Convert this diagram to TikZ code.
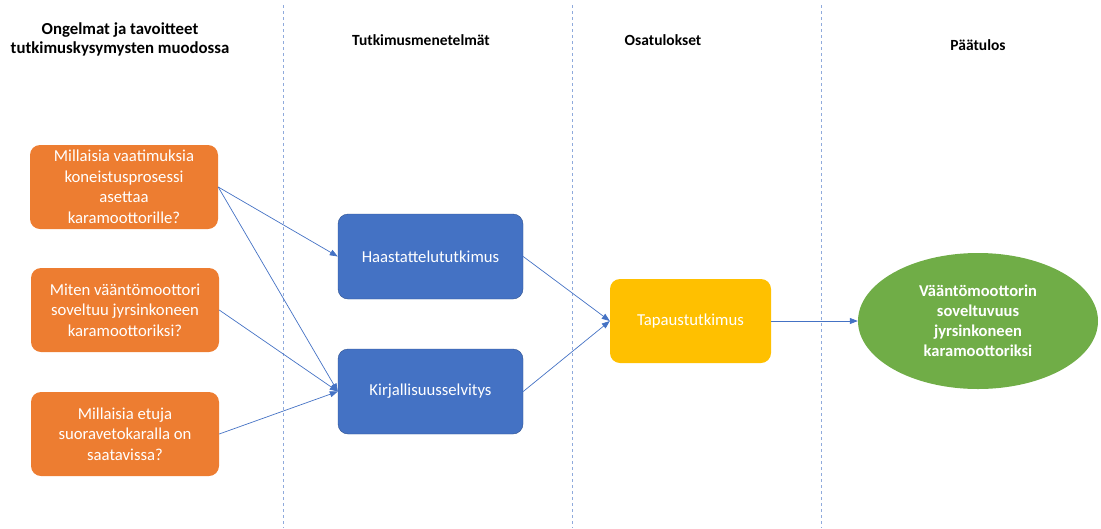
\documentclass[tikz,border=0pt]{standalone}
\usepackage{fontspec}
\setmainfont{Carlito}
\usetikzlibrary{arrows.meta,positioning,shapes.geometric}
\definecolor{qorange}{HTML}{ED7D31}
\definecolor{mblue}{HTML}{4472C4}
\definecolor{mblueedge}{HTML}{2F528F}
\definecolor{ryellow}{HTML}{FFC000}
\definecolor{fgreen}{HTML}{70AD47}
\definecolor{lineblue}{HTML}{8FAADC}
\tikzset{
  boxtext/.style={align=center,text=white,font=\fontsize{16.7}{20.5}\selectfont},
  qbox/.style={boxtext,fill=qorange,rounded corners=10pt,minimum width=188pt,minimum height=84pt,inner sep=0pt},
  mbox/.style={boxtext,fill=mblue,draw=mblueedge,rounded corners=10pt,minimum width=185pt,minimum height=85pt,inner sep=0pt},
  rbox/.style={boxtext,fill=ryellow,rounded corners=10pt,minimum width=161pt,minimum height=84pt,inner sep=0pt},
  endnode/.style={ellipse,boxtext,font=\bfseries\fontsize{16.5}{20}\selectfont,fill=fgreen,minimum width=240pt,minimum height=136pt,inner sep=0pt},
  header/.style={align=center,font=\bfseries\fontsize{15.5}{19}\selectfont},
  link/.style={-{Triangle[length=8pt,width=6pt]},mblue,line width=0.7pt}
}
\begin{document}
\begin{tikzpicture}[x=1pt,y=-1pt]
  \useasboundingbox (0,0) rectangle (1101,528);
  \foreach \x in {283,572,821}{
    \draw[lineblue,dashed,line width=0.8pt] (\x,5) -- (\x,528);
  }
  \node[header,font=\bfseries\fontsize{16.8}{19}\selectfont] (h1) at (120,39) {Ongelmat ja tavoitteet\\tutkimuskysymysten muodossa};
  \node[header] (h2) at (421,40) {Tutkimusmenetelmät};
  \node[header] (h3) at (663,40) {Osatulokset};
  \node[header] (h4) at (978,45) {Päätulos};

  \node[qbox] (q1) at (124,187) {Millaisia vaatimuksia\\koneistusprosessi\\asettaa\\karamoottorille?};
  \node[qbox] (q2) at (125,310) {Miten vääntömoottori\\soveltuu jyrsinkoneen\\karamoottoriksi?};
  \node[qbox] (q3) at (125,434) {Millaisia etuja\\suoravetokaralla on\\saatavissa?};

  \node[mbox] (haast) at (430.5,256.5) {Haastattelututkimus};
  \node[mbox] (kirj) at (430.5,391.5) {Kirjallisuusselvitys};
  \node[rbox] (tapaus) at (690.5,321) {Tapaustutkimus};
  \node[endnode] (tulos) at (978,321) {Vääntömoottorin\\soveltuvuus\\jyrsinkoneen\\karamoottoriksi};

  \draw[link] (q1.east) -- (haast.west);
  \draw[link] (q1.east) -- (kirj.west);
  \draw[link] (q2.east) -- (kirj.west);
  \draw[link] (q3.east) -- (kirj.west);
  \draw[link] (haast.east) -- (tapaus.west);
  \draw[link] (kirj.east) -- (tapaus.west);
  \draw[link] (tapaus.east) -- (tulos.west);
\end{tikzpicture}
\end{document}
